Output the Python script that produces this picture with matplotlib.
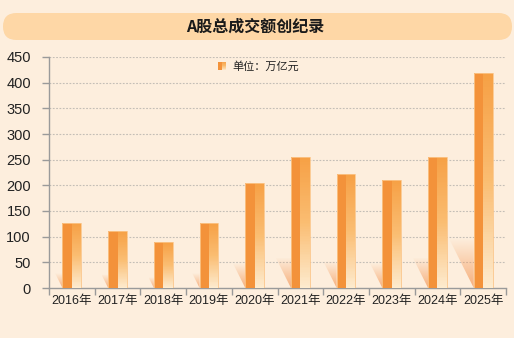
import numpy as np
import matplotlib.pyplot as plt
from matplotlib.patches import Rectangle, Polygon, FancyBboxPatch
from matplotlib.colors import LinearSegmentedColormap

years = ['2016年', '2017年', '2018年', '2019年', '2020年',
         '2021年', '2022年', '2023年', '2024年', '2025年']
values = [126, 111, 89, 126, 205, 255, 222, 211, 255, 418]
yticks = [0, 50, 100, 150, 200, 250, 300, 350, 400, 450]

title = 'A股总成交额创纪录'
unit_label = '单位：万亿元'

bg = '#fdeedd'
dark_orange = '#f3923a'
fonts = ['Liberation Sans', 'Noto Sans CJK SC']

plt.rcParams['font.family'] = fonts

fig = plt.figure(figsize=(5.29, 3.38), dpi=100)
fig.patch.set_facecolor('white')

# background layer in pixel units: card and title pill
bax = fig.add_axes([0, 0, 1, 1], zorder=0)
bax.set_xlim(0, 529)
bax.set_ylim(338, 0)
bax.axis('off')
bax.add_patch(Rectangle((0, 0), 514, 338, facecolor=bg, edgecolor='none'))
bax.add_patch(FancyBboxPatch((3, 13), 509, 27,
                             boxstyle='round,pad=0,rounding_size=13.5',
                             facecolor='#fed7a6', edgecolor='none'))
bax.text(255, 27, title, ha='center', va='center',
         fontsize=11.5, fontweight='bold', color='#1a1a1a',
         family=['Noto Sans CJK SC'])

ax = fig.add_axes([49 / 529, 50 / 338, 457 / 529, 231 / 338], zorder=1)
ax.set_facecolor('none')
n = len(years)

for y in yticks[1:]:
    ax.axhline(y, color='#c4beb6', lw=0.8, ls=(0, (1.6, 1.4)), zorder=1)

cmap_bar = LinearSegmentedColormap.from_list('bar', ['#fdebcf', '#fabd72', '#f6a045'])
cmap_sh = LinearSegmentedColormap.from_list('sh', [(0.96, 0.6, 0.35, 0.0),
                                                   (0.96, 0.6, 0.35, 0.75)])
grad = np.linspace(0, 1, 256).reshape(-1, 1)


def fade_rect(x0, x1, top, steps=80):
    # vertical colour ramp made of thin strips, pale at the base
    edges = np.linspace(0, top, steps + 1)
    for k in range(steps):
        ax.add_patch(Rectangle((x0, edges[k]), x1 - x0, edges[k + 1] - edges[k] + 0.01,
                               facecolor=cmap_bar((k + 0.5) / steps),
                               edgecolor='none', zorder=3))


bw = 0.41
for i, v in enumerate(values):
    xc = i + 0.5
    xl = xc - bw / 2
    # shadow falling to the left of the bar
    h = 0.23 * v
    w = 0.54 * v / 418
    tri = Polygon([(xl, 0), (xl - w, h), (xl, h)], closed=True,
                  facecolor='none', edgecolor='none')
    ax.add_patch(tri)
    im = ax.imshow(grad[::-1], extent=(xl - w, xl, 0, h), origin='lower',
                   cmap=cmap_sh, aspect='auto', zorder=2)
    im.set_clip_path(tri)
    # left half solid, right half fading downwards
    ax.add_patch(Rectangle((xl, 0), bw / 2, v, facecolor=dark_orange,
                           edgecolor='none', zorder=3))
    fade_rect(xc, xl + bw, v)
    ax.add_patch(Rectangle((xl, 0), bw, v, facecolor='none',
                           edgecolor='#fbc68a', lw=0.6, zorder=4))

for s in ['top', 'right']:
    ax.spines[s].set_visible(False)
for s in ['left', 'bottom']:
    ax.spines[s].set_color('#9a9a9a')
    ax.spines[s].set_linewidth(1.0)

ax.set_yticks(yticks)
ax.set_yticklabels([str(t) for t in yticks], fontsize=10.5, color='#222222')
ax.tick_params(axis='y', length=5, width=1, color='#9a9a9a', pad=8)

ax.set_xticks(np.arange(n + 1))
ax.set_xticklabels([])
ax.set_xticks(np.arange(n) + 0.5, minor=True)
ax.set_xticklabels(years, minor=True, fontsize=9, color='#222222')
ax.tick_params(axis='x', which='major', length=5, width=1, color='#9a9a9a')
ax.tick_params(axis='x', which='minor', length=0, pad=5)

# unit legend swatch
ax.add_patch(Rectangle((3.70, 424), 0.09, 17, facecolor=dark_orange,
                       edgecolor='none', zorder=5))
sw = np.linspace(0, 1, 20)
for k in range(20):
    ax.add_patch(Rectangle((3.79, 424 + 17 * k / 20), 0.08, 17 / 20 + 0.1,
                           facecolor=cmap_bar((k + 0.5) / 20), edgecolor='none', zorder=5))
ax.text(4.02, 432, unit_label, fontsize=8, color='#222222', va='center',
        family=['Noto Sans CJK SC'])

ax.set_xlim(0, n)
ax.set_ylim(0, 450)

fig.savefig('out.png', dpi=100, facecolor=fig.get_facecolor())
